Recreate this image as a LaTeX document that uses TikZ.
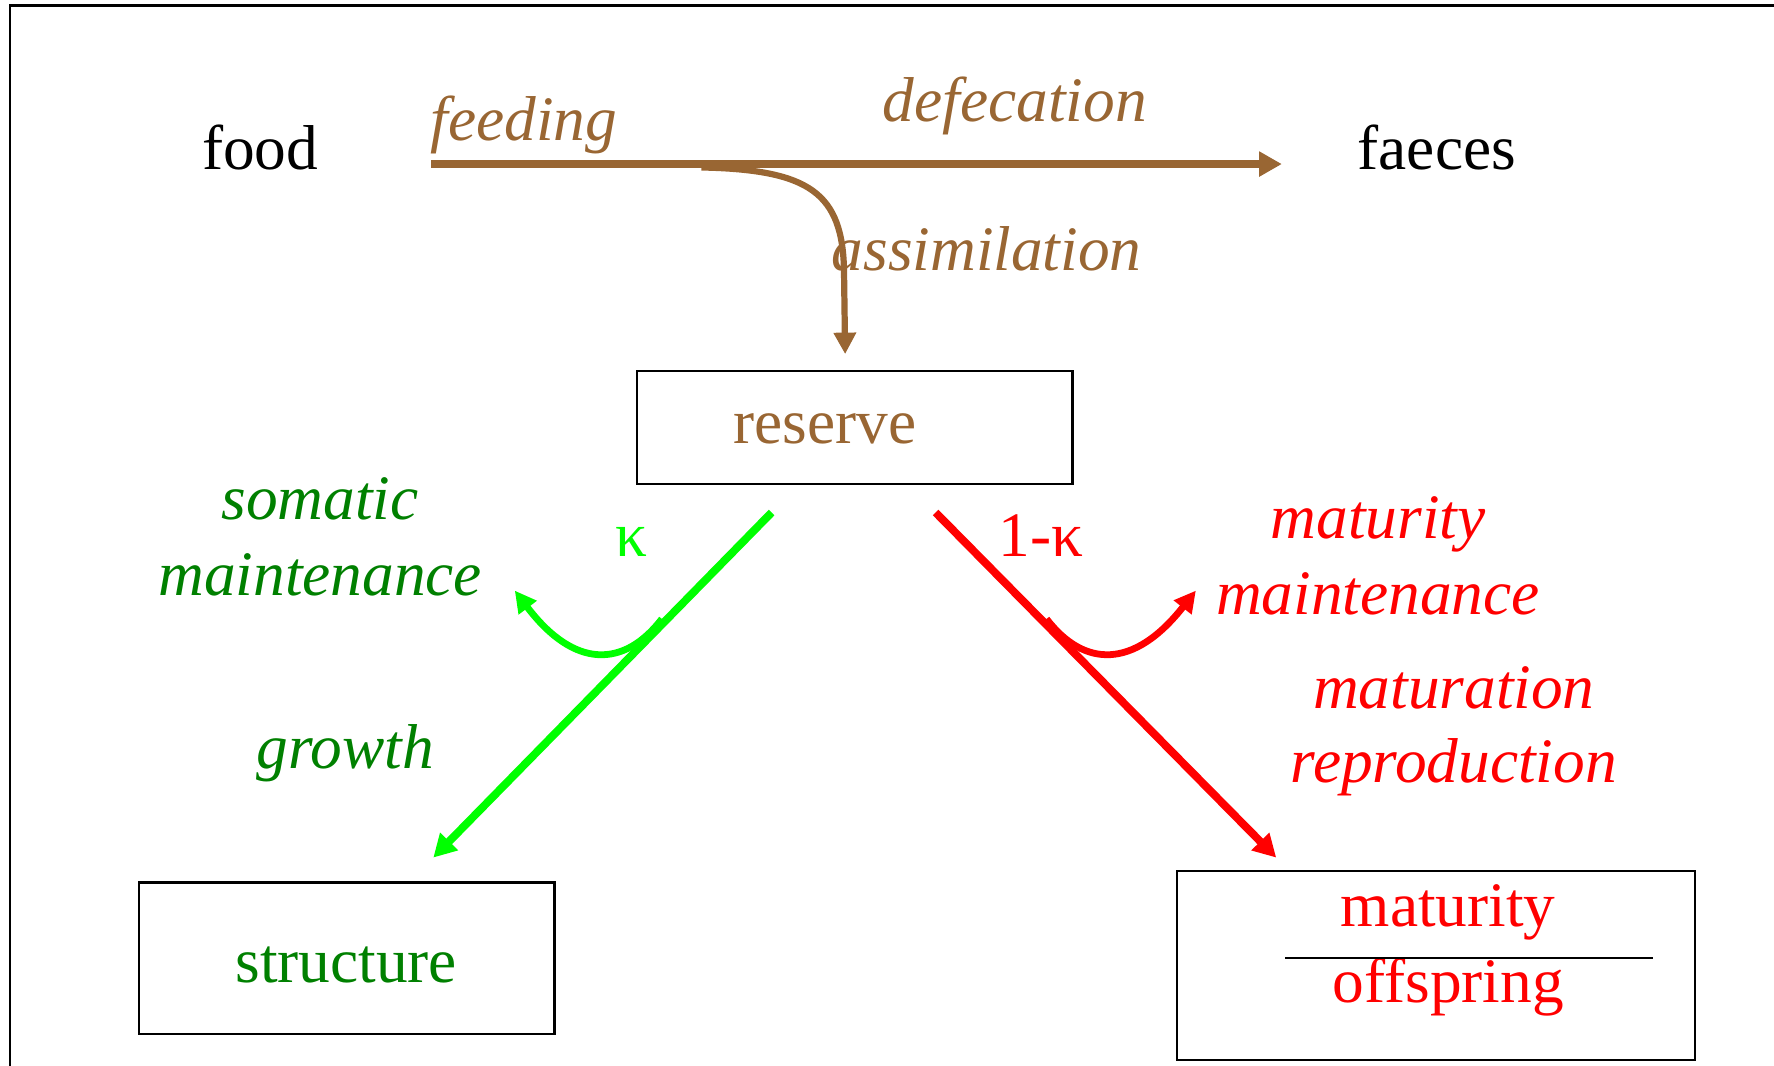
\documentclass[tikz,border=0pt]{standalone}
\usepackage{fontspec}
\setmainfont{Liberation Serif}
\usetikzlibrary{arrows.meta}
\definecolor{brn}{HTML}{996633}
\definecolor{lgreen}{HTML}{00FF00}
\definecolor{dgreen}{HTML}{008000}
\definecolor{rred}{HTML}{FF0000}
\tikzset{
  txt/.style={inner sep=0pt, anchor=base, font=\fontsize{56}{60}\selectfont},
  itxt/.style={txt, font=\fontsize{56}{60}\selectfont\itshape},
  flow/.style={line width=7pt},
  bigtip/.style={-{Triangle[length=20pt,width=21pt]}},
  smalltip/.style={-{Triangle[length=19pt,width=19pt]}}
}
\begin{document}
\begin{tikzpicture}[x=1pt,y=-1pt]
\useasboundingbox (0,0) rectangle (1568,942);
% frame
\draw[line width=2.5pt] (1568,4.7) -- (8.8,4.7) -- (8.8,942);
% boxes
\node[draw, line width=2pt, minimum width=385pt, minimum height=100pt, inner sep=0pt] (reserve) at (755.5,378) {};
\node[draw, line width=2pt, minimum width=367pt, minimum height=134pt, inner sep=0pt] (structure) at (306.5,847) {};
\node[draw, line width=2pt, minimum width=458pt, minimum height=167pt, inner sep=0pt] (matbox) at (1269,853.5) {};
% texts
\node[txt] (food) at (230,150) {food};
\node[txt] (faeces) at (1270,150) {faeces};
\node[itxt, text=brn] (feeding) at (463,124) {feeding};
\node[itxt, text=brn] (defecation) at (897,107) {defecation};
\node[itxt, text=brn] (assim) at (872,239) {assimilation};
\node[txt, text=brn] (reservetxt) at (729,392) {reserve};
\node[itxt, text=dgreen] (somatic) at (283,459) {somatic};
\node[itxt, text=dgreen] (smaint) at (283,526) {maintenance};
\node[itxt, text=dgreen] (growth) at (305,679) {growth};
\node[txt, text=lgreen] (kappa) at (558,492) {κ};
\node[txt, text=rred] (onekappa) at (920,492) {1-κ};
\node[itxt, text=rred] (maturity) at (1218,476) {maturity};
\node[itxt, text=rred] (mmaint) at (1218,543) {maintenance};
\node[itxt, text=rred] (maturation) at (1285,626) {maturation};
\node[itxt, text=rred] (repro) at (1285,692) {reproduction};
\node[txt, text=dgreen] (structtxt) at (306,868) {structure};
\node[txt, text=rred] (mattxt) at (1280,819) {maturity};
\node[txt, text=rred] (offtxt) at (1280,886) {offspring};
% divider
\coordinate (divL) at (1136,847);
\coordinate (divR) at (1461,847);
\draw[line width=1.5pt] (divL) -- (divR);
% brown flows
\coordinate (feedS) at (381,145);
\coordinate (defE) at (1133,145);
\coordinate (asS) at (620,148);
\coordinate (asE) at (747,313);
\draw[flow, brn, bigtip] (feedS) -- (defE);
\draw[line width=5.5pt, brn, smalltip] (asS) .. controls (715,150) and (745,170) .. (746,240) -- (asE);
% green flows
\coordinate (gS) at (682,453);
\coordinate (gE) at (383,758);
\coordinate (gcS) at (585,547);
\coordinate (gcE) at (455,522);
\draw[flow, lgreen, bigtip] (gS) -- (gE);
\draw[line width=6pt, lgreen, smalltip] (gcS) .. controls (552,590) and (508,592) .. (gcE);
% red flows
\coordinate (rS) at (827,453);
\coordinate (rE) at (1128,758);
\coordinate (rcS) at (925,547);
\coordinate (rcE) at (1057,522);
\draw[flow, rred, bigtip] (rS) -- (rE);
\draw[line width=6pt, rred, smalltip] (rcS) .. controls (958,590) and (1002,592) .. (rcE);
\end{tikzpicture}
\end{document}
